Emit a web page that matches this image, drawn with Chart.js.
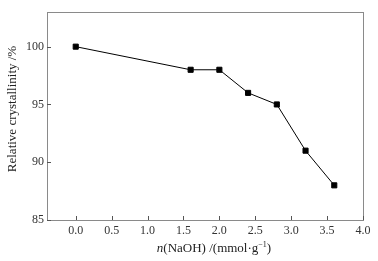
<!DOCTYPE html>
<html lang="en">
<head>
  <meta charset="UTF-8">
  <title>Relative crystallinity vs n(NaOH)</title>
  <script src="https://cdn.jsdelivr.net/npm/chart.js"></script>
  <style>
    html, body { margin: 0; padding: 0; background: #fff; }
    #wrap { width: 378px; height: 261px; }
  </style>
</head>
<body>
  <div id="wrap"><canvas id="chart" width="378" height="261"></canvas></div>

  <script>
    // data
    var naoh = [0.0, 1.6, 2.0, 2.4, 2.8, 3.2, 3.6];
    var crystallinity = [100, 98, 98, 96, 95, 91, 88];
    var xTicks = [0.0, 0.5, 1.0, 1.5, 2.0, 2.5, 3.0, 3.5, 4.0];
    var yTicks = [85, 90, 95, 100];

    var serif = '"Liberation Serif", "DejaVu Serif", serif';
    var frameColor = '#8a8a8a';
    var textColor = '#333';

    // box + inward ticks + axis titles
    var decor = {
      id: 'decor',
      afterDraw: function(chart) {
        var ctx = chart.ctx;
        var a = chart.chartArea;
        var xs = chart.scales.x, ys = chart.scales.y;
        ctx.save();
        ctx.strokeStyle = frameColor;
        ctx.lineWidth = 1;
        ctx.strokeRect(Math.round(a.left) + 0.5, Math.round(a.top) + 0.5,
          Math.round(a.right - a.left), Math.round(a.bottom - a.top));

        ctx.strokeStyle = '#555';
        ctx.beginPath();
        xTicks.forEach(function(v) {
          var px = Math.round(xs.getPixelForValue(v)) + 0.5;
          ctx.moveTo(px, a.bottom);
          ctx.lineTo(px, a.bottom - 4);
        });
        yTicks.forEach(function(v) {
          var py = Math.round(ys.getPixelForValue(v)) + 0.5;
          ctx.moveTo(a.left, py);
          ctx.lineTo(a.left + 4, py);
        });
        ctx.stroke();

        ctx.fillStyle = '#222';
        // y title
        ctx.save();
        ctx.translate(13, (a.top + a.bottom) / 2 - 7);
        ctx.rotate(-Math.PI / 2);
        ctx.font = '13px ' + serif;
        ctx.textAlign = 'center';
        ctx.textBaseline = 'middle';
        ctx.fillText('Relative crystallinity /%', 0, 0);
        ctx.restore();

        // x title: n(NaOH) /(mmol·g⁻¹) with italic n and superscript
        var parts = [
          { t: 'n', f: 'italic 13px ' + serif, dy: 0 },
          { t: '(NaOH) /(mmol\u00b7g', f: '13px ' + serif, dy: 0 },
          { t: '\u22121', f: '8px ' + serif, dy: -5 },
          { t: ')', f: '13px ' + serif, dy: 0 }
        ];
        var total = 0;
        parts.forEach(function(p) { ctx.font = p.f; p.w = ctx.measureText(p.t).width; total += p.w; });
        var x0 = (a.left + a.right) / 2 + 9 - total / 2;
        var yb = 252;
        ctx.textAlign = 'left';
        ctx.textBaseline = 'alphabetic';
        parts.forEach(function(p) {
          ctx.font = p.f;
          ctx.fillText(p.t, x0, yb + p.dy);
          x0 += p.w;
        });
        ctx.restore();
      }
    };

    new Chart(document.getElementById('chart'), {
      type: 'line',
      data: {
        datasets: [{
          data: naoh.map(function(x, i) { return { x: x, y: crystallinity[i] }; }),
          borderColor: '#000',
          backgroundColor: '#000',
          borderWidth: 1,
          pointStyle: 'rect',
          pointRadius: 3.6,
          pointHoverRadius: 3.6,
          tension: 0,
          fill: false
        }]
      },
      options: {
        responsive: false,
        animation: false,
        layout: { padding: { left: 0, top: 12, right: 15, bottom: 0 } },
        plugins: { legend: { display: false }, tooltip: { enabled: false } },
        scales: {
          x: {
            type: 'linear',
            min: -0.4,
            max: 4.0,
            afterBuildTicks: function(s) { s.ticks = xTicks.map(function(v) { return { value: v }; }); },
            afterFit: function(s) { s.height = 41; },
            grid: { display: false, drawTicks: false },
            border: { display: false },
            ticks: {
              padding: 4,
              color: textColor,
              font: { family: serif, size: 12 },
              callback: function(v) { return Number(v).toFixed(1); }
            }
          },
          y: {
            min: 85,
            max: 103,
            afterBuildTicks: function(s) { s.ticks = yTicks.map(function(v) { return { value: v }; }); },
            afterFit: function(s) { s.width = 47; },
            grid: { display: false, drawTicks: false },
            border: { display: false },
            ticks: {
              padding: 3,
              color: textColor,
              font: { family: serif, size: 12 }
            }
          }
        }
      },
      plugins: [decor]
    });
  </script>
</body>
</html>
